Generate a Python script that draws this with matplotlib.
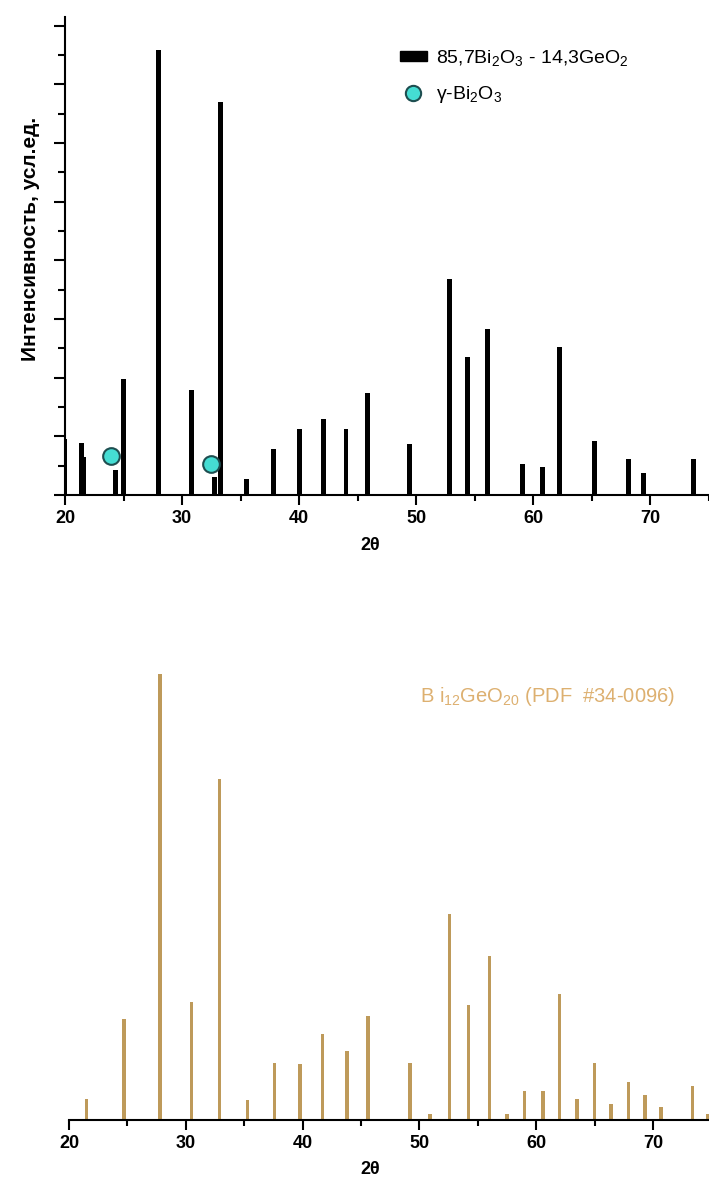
import matplotlib
matplotlib.use("Agg")
import matplotlib.pyplot as plt
from matplotlib.lines import Line2D
from matplotlib.patches import Rectangle
from matplotlib.ticker import MultipleLocator

plt.rcParams['font.family'] = ['Liberation Sans', 'DejaVu Sans']
plt.rcParams['mathtext.default'] = 'regular'

# SAMPLE 85,7Bi2O3 - 14,3GeO2 (top)
sample_2theta = [20.0, 21.4, 21.6, 24.3, 25.0, 28.0, 30.8, 32.8, 33.3, 35.5,
                 37.8, 40.0, 42.1, 44.0, 45.8, 49.4, 52.8, 54.4, 56.1, 59.1,
                 60.8, 62.2, 65.2, 68.1, 69.4, 73.7]
sample_int = [0.95, 0.89, 0.65, 0.42, 1.98, 7.58, 1.79, 0.31, 6.70, 0.27,
              0.78, 1.13, 1.30, 1.12, 1.74, 0.87, 3.68, 2.35, 2.83, 0.53,
              0.48, 2.52, 0.92, 0.61, 0.38, 0.61]

# gamma-Bi2O3 markers
gamma_2theta = [23.9, 32.5]
gamma_int = [0.66, 0.53]

# REFERENCE Bi12GeO20 PDF #34-0096 (bottom)
ref_2theta = [21.5, 24.7, 27.8, 30.5, 32.9, 35.3, 37.6, 39.8, 41.7, 43.8,
              45.6, 49.2, 50.9, 52.6, 54.2, 56.0, 57.5, 59.0, 60.6, 62.0,
              63.5, 65.0, 66.4, 67.9, 69.3, 70.7, 73.4, 74.7]
ref_int = [4.6, 22.6, 100, 26.5, 76.4, 4.4, 12.7, 12.6, 19.3, 15.4,
           23.4, 12.7, 1.4, 46.3, 25.7, 36.7, 1.4, 6.6, 6.6, 28.3,
           4.6, 12.7, 3.5, 8.5, 5.6, 2.9, 7.7, 1.4]

xticks = [20, 30, 40, 50, 60, 70]

W, H = 709, 1180
fig = plt.figure(figsize=(W / 100, H / 100), dpi=100)

cyan = '#45DDD3'
gold = '#BE9A5A'
gold_txt = '#DDB070'


def style_x(ax):
    ax.set_xticks(xticks)
    ax.xaxis.set_minor_locator(MultipleLocator(5))
    ax.tick_params(axis='x', which='major', direction='out', length=7, width=1.5,
                   labelsize=13, pad=4)
    ax.tick_params(axis='x', which='minor', direction='out', length=4, width=1.5)
    for lab in ax.get_xticklabels():
        lab.set_fontweight('bold')
    ax.spines['bottom'].set_linewidth(1.5)
    ax.spines['top'].set_visible(False)
    ax.spines['right'].set_visible(False)


# TOP PANEL
ax1 = fig.add_axes([65 / W, (H - 495) / H, (W - 65) / W, (495 - 17) / H])
ax1.bar(sample_2theta, sample_int, width=0.42, color='black', zorder=2)
ax1.plot(gamma_2theta, gamma_int, 'o', ms=12, mfc=cyan, mec='#1E4E50', mew=1.5, zorder=3)
ax1.set_xlim(20, 75.0)
ax1.set_ylim(0, 8.15)
style_x(ax1)
ax1.yaxis.set_major_locator(MultipleLocator(1))
ax1.yaxis.set_minor_locator(MultipleLocator(0.5))
ax1.tick_params(axis='y', which='major', direction='out', length=8, width=1.5, labelleft=False)
ax1.tick_params(axis='y', which='minor', direction='out', length=5, width=1.5)
ax1.spines['left'].set_linewidth(1.5)

handles = [Rectangle((0, 0), 1, 1, color='black'),
           Line2D([], [], ls='none', marker='o', ms=11, mfc=cyan, mec='#1E4E50', mew=1.5)]
labels = ['85,7Bi$_2$O$_3$ - 14,3GeO$_2$', 'γ-Bi$_2$O$_3$']
ax1.legend(handles, labels, loc='upper left',
           bbox_to_anchor=((392 - 65) / (W - 65), 1 - (40 - 17) / (495 - 17)),
           frameon=False, fontsize=14, handlelength=1.4, handleheight=0.45,
           handletextpad=0.45, labelspacing=0.85, borderaxespad=0)

fig.text(31 / W, 1 - 239 / H, 'Интенсивность, усл.ед.', rotation=90, ha='center',
         va='center', fontsize=15, fontweight='bold')
fig.text(370 / W, 1 - 545 / H, '2θ', ha='center', va='center', fontsize=13,
         fontweight='bold')

# BOTTOM PANEL
ax2 = fig.add_axes([69 / W, (H - 1120) / H, (W - 69) / W, (1120 - 643) / H])
ax2.bar(ref_2theta, ref_int, width=0.3, color=gold, zorder=2)
ax2.set_xlim(20, 74.8)
ax2.set_ylim(0, 107)
style_x(ax2)
ax2.spines['left'].set_visible(False)
ax2.set_yticks([])
fig.text(420 / W, 1 - 697 / H, 'B i$_{12}$GeO$_{20}$ (PDF  #34-0096)', color=gold_txt,
         fontsize=14.5, ha='left', va='center')

fig.text(370 / W, 1 - 1170 / H, '2θ', ha='center', va='center', fontsize=13,
         fontweight='bold')

fig.savefig('out.png', dpi=100)
